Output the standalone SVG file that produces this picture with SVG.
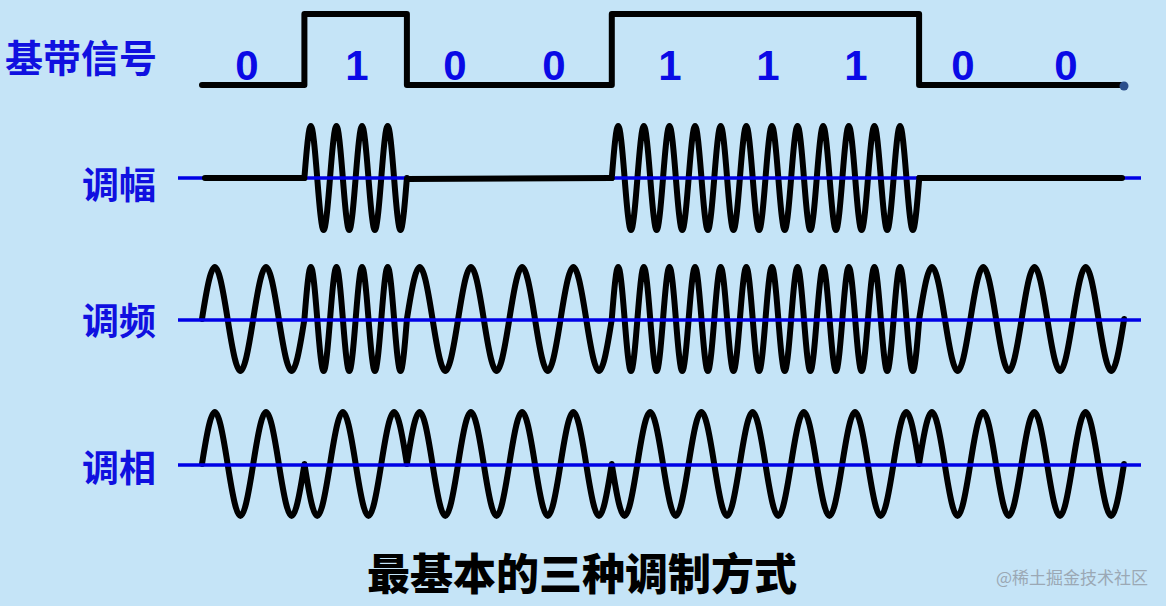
<svg xmlns="http://www.w3.org/2000/svg" width="1166" height="606" viewBox="0 0 1166 606">
<style>
.bg{fill:#c5e4f7}
.wave{fill:none;stroke:#000;stroke-width:6;stroke-linecap:round;stroke-linejoin:round}
.axis{fill:none;stroke:#0000e6;stroke-width:3.5}
.lbl{font-family:"Noto Sans CJK SC","Noto Sans",sans-serif;font-weight:700;fill:#1010e0}
.bit{font-family:"Liberation Sans",Arial,sans-serif;font-weight:700;font-size:42px;fill:#0a0ae6;text-anchor:middle}
.title{font-family:"Noto Sans CJK SC",sans-serif;font-weight:900;font-size:43px;fill:#000}
.wm{font-family:"Noto Sans CJK SC",sans-serif;font-weight:400;font-size:17px;fill:#9ba8b4;text-anchor:end}
</style>
<rect class="bg" x="0" y="0" width="1166" height="606"/>

<g id="labels">
  <text class="lbl" x="5" y="72" font-size="38">基带信号</text>
  <text class="lbl" x="156" y="199" font-size="37" text-anchor="end">调幅</text>
  <text class="lbl" x="156" y="335" font-size="37" text-anchor="end">调频</text>
  <text class="lbl" x="156" y="482" font-size="37" text-anchor="end">调相</text>
</g>

<g id="baseband">
  <path class="wave" d="M202,85 H304.4 V14 H406.9 V85 H611.8 V14 H919.1 V85 H1124"/>
  <circle cx="1124" cy="86" r="4.5" fill="#2b4f8c"/>
  <g id="bits">
    <text class="bit" x="247" y="80">0</text>
    <text class="bit" x="357" y="80">1</text>
    <text class="bit" x="455" y="80">0</text>
    <text class="bit" x="554" y="80">0</text>
    <text class="bit" x="670" y="80">1</text>
    <text class="bit" x="768" y="80">1</text>
    <text class="bit" x="856" y="80">1</text>
    <text class="bit" x="963" y="80">0</text>
    <text class="bit" x="1066" y="80">0</text>
  </g>
</g>

<g id="am">
  <path class="wave" d="M304.4,178 c5.43,-69.33 7.37,-69.33 12.81,0 s7.37,69.33 12.81,0 s7.37,-69.33 12.81,0 s7.37,69.33 12.81,0 s7.37,-69.33 12.81,0 s7.37,69.33 12.81,0 s7.37,-69.33 12.81,0 s7.37,69.33 12.81,0"/>
  <path class="wave" d="M611.8,178 c5.43,-69.33 7.37,-69.33 12.81,0 s7.37,69.33 12.81,0 s7.37,-69.33 12.81,0 s7.37,69.33 12.81,0 s7.37,-69.33 12.81,0 s7.37,69.33 12.81,0 s7.37,-69.33 12.81,0 s7.37,69.33 12.81,0 s7.37,-69.33 12.81,0 s7.37,69.33 12.81,0 s7.37,-69.33 12.81,0 s7.37,69.33 12.81,0 s7.37,-69.33 12.81,0 s7.37,69.33 12.81,0 s7.37,-69.33 12.81,0 s7.37,69.33 12.81,0 s7.37,-69.33 12.81,0 s7.37,69.33 12.81,0 s7.37,-69.33 12.81,0 s7.37,69.33 12.81,0 s7.37,-69.33 12.81,0 s7.37,69.33 12.81,0 s7.37,-69.33 12.81,0 s7.37,69.33 12.81,0"/>
  <line class="axis" x1="178" y1="178" x2="1141" y2="178"/>
  <path class="wave" d="M205,178 H304.4 M406.9,179 L611.8,178 M919.2,178 H1122"/>
</g>

<g id="fm">
  <path class="wave" d="M202,319 c10.87,-69.33 14.74,-69.33 25.61,0 s14.74,69.33 25.61,0 s14.74,-69.33 25.61,0 s14.74,69.33 25.61,0 c5.43,-69.33 7.37,-69.33 12.81,0 s7.37,69.33 12.81,0 s7.37,-69.33 12.81,0 s7.37,69.33 12.81,0 s7.37,-69.33 12.81,0 s7.37,69.33 12.81,0 s7.37,-69.33 12.81,0 s7.37,69.33 12.81,0 c10.87,-69.33 14.74,-69.33 25.61,0 s14.74,69.33 25.61,0 s14.74,-69.33 25.61,0 s14.74,69.33 25.61,0 s14.74,-69.33 25.61,0 s14.74,69.33 25.61,0 s14.74,-69.33 25.61,0 s14.74,69.33 25.61,0 c5.43,-69.33 7.37,-69.33 12.81,0 s7.37,69.33 12.81,0 s7.37,-69.33 12.81,0 s7.37,69.33 12.81,0 s7.37,-69.33 12.81,0 s7.37,69.33 12.81,0 s7.37,-69.33 12.81,0 s7.37,69.33 12.81,0 s7.37,-69.33 12.81,0 s7.37,69.33 12.81,0 s7.37,-69.33 12.81,0 s7.37,69.33 12.81,0 s7.37,-69.33 12.81,0 s7.37,69.33 12.81,0 s7.37,-69.33 12.81,0 s7.37,69.33 12.81,0 s7.37,-69.33 12.81,0 s7.37,69.33 12.81,0 s7.37,-69.33 12.81,0 s7.37,69.33 12.81,0 s7.37,-69.33 12.81,0 s7.37,69.33 12.81,0 s7.37,-69.33 12.81,0 s7.37,69.33 12.81,0 c10.87,-69.33 14.74,-69.33 25.61,0 s14.74,69.33 25.61,0 s14.74,-69.33 25.61,0 s14.74,69.33 25.61,0 s14.74,-69.33 25.61,0 s14.74,69.33 25.61,0 s14.74,-69.33 25.61,0 s14.74,69.33 25.61,0"/>
  <line class="axis" x1="178" y1="320" x2="1141" y2="320"/>
</g>

<g id="pm">
  <path class="wave" d="M202,464 c10.87,-69.33 14.74,-69.33 25.61,0 s14.74,69.33 25.61,0 s14.74,-69.33 25.61,0 s14.74,69.33 25.61,0 c10.87,69.33 14.74,69.33 25.61,0 s14.74,-69.33 25.61,0 s14.74,69.33 25.61,0 s14.74,-69.33 25.61,0 c10.87,-69.33 14.74,-69.33 25.61,0 s14.74,69.33 25.61,0 s14.74,-69.33 25.61,0 s14.74,69.33 25.61,0 s14.74,-69.33 25.61,0 s14.74,69.33 25.61,0 s14.74,-69.33 25.61,0 s14.74,69.33 25.61,0 c10.87,69.33 14.74,69.33 25.61,0 s14.74,-69.33 25.61,0 s14.74,69.33 25.61,0 s14.74,-69.33 25.61,0 s14.74,69.33 25.61,0 s14.74,-69.33 25.61,0 s14.74,69.33 25.61,0 s14.74,-69.33 25.61,0 s14.74,69.33 25.61,0 s14.74,-69.33 25.61,0 s14.74,69.33 25.61,0 s14.74,-69.33 25.61,0 c10.87,-69.33 14.74,-69.33 25.61,0 s14.74,69.33 25.61,0 s14.74,-69.33 25.61,0 s14.74,69.33 25.61,0 s14.74,-69.33 25.61,0 s14.74,69.33 25.61,0 s14.74,-69.33 25.61,0 s14.74,69.33 25.61,0"/>
  <line class="axis" x1="178" y1="465" x2="1141" y2="465"/>
</g>

<g id="caption">
  <text class="title" x="367" y="590">最基本的三种调制方式</text>
  <text class="wm" x="1148" y="584">@稀土掘金技术社区</text>
</g>
</svg>
